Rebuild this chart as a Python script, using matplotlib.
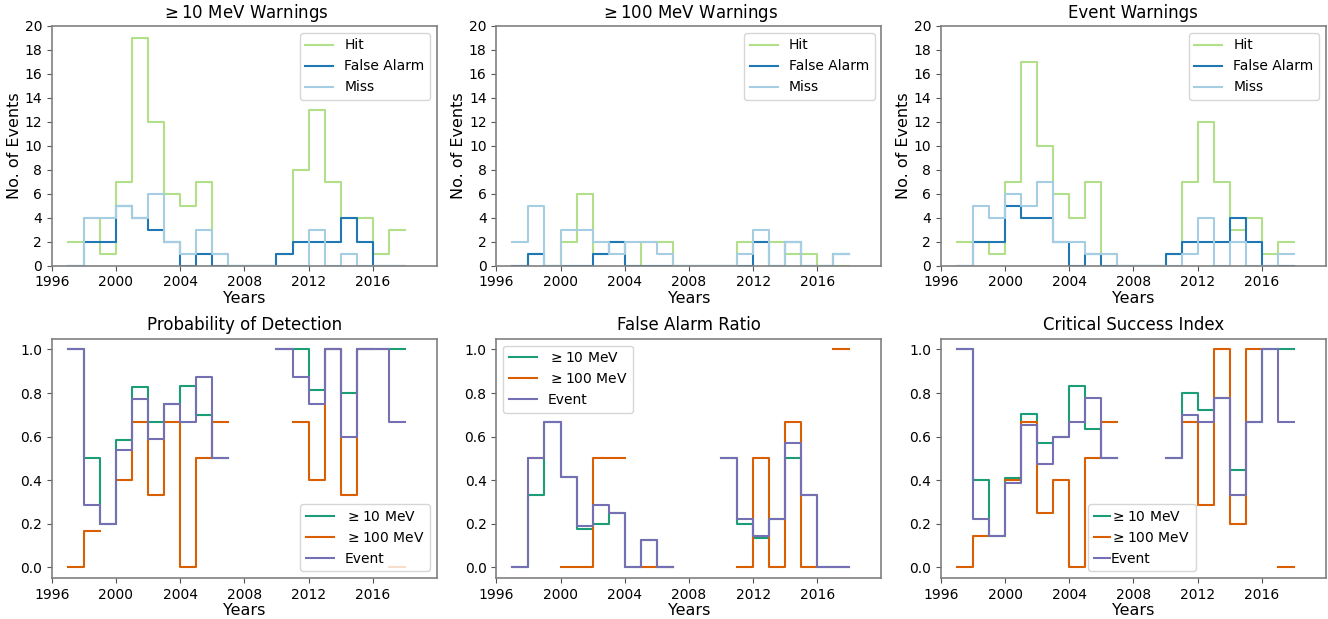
"""Yearly SEP warning counts and skill scores."""

import matplotlib

matplotlib.use("Agg")
import matplotlib.pyplot as plt
import numpy as np

years = np.arange(1997, 2018)

# yearly counts
hit_10 = [2, 4, 1, 7, 19, 12, 6, 5, 7, 1, 0, 0, 0, 1, 8, 13, 7, 4, 4, 1, 3]
fa_10 = [0, 2, 2, 5, 4, 3, 2, 0, 1, 0, 0, 0, 0, 1, 2, 2, 2, 4, 2, 0, 0]
miss_10 = [0, 4, 4, 5, 4, 6, 2, 1, 3, 1, 0, 0, 0, 0, 0, 3, 0, 1, 0, 0, 0]

hit_100 = [0, 1, 0, 2, 6, 1, 2, 0, 2, 2, 0, 0, 0, 0, 2, 2, 2, 1, 1, 0, 0]
fa_100 = [0, 1, 0, 0, 0, 1, 2, 0, 0, 0, 0, 0, 0, 0, 0, 2, 0, 2, 0, 0, 1]
miss_100 = [2, 5, 0, 3, 3, 2, 1, 2, 2, 1, 0, 0, 0, 0, 1, 3, 0, 2, 0, 0, 1]

hit_ev = [2, 2, 1, 7, 17, 10, 6, 4, 7, 1, 0, 0, 0, 1, 7, 12, 7, 3, 4, 1, 2]
fa_ev = [0, 2, 2, 5, 4, 4, 2, 0, 1, 0, 0, 0, 0, 1, 2, 2, 2, 4, 2, 0, 0]
miss_ev = [0, 5, 4, 6, 5, 7, 2, 2, 1, 1, 0, 0, 0, 0, 1, 4, 0, 2, 0, 0, 1]

count_titles = [r"$\geq$10 MeV Warnings", r"$\geq$100 MeV Warnings", "Event Warnings"]
count_labels = ["Hit", "False Alarm", "Miss"]
count_colors = ["#b2df8a", "#1f78b4", "#a6cee3"]

score_titles = ["Probability of Detection", "False Alarm Ratio", "Critical Success Index"]
score_labels = [r"$\geq$10 MeV", r"$\geq$100 MeV", "Event"]
score_colors = ["#1b9e77", "#d95f02", "#7570b3"]

year_ticks = [1996, 2000, 2004, 2008, 2012, 2016]


def ratio(num, den):
    num = np.asarray(num, dtype=float)
    den = np.asarray(den, dtype=float)
    with np.errstate(invalid="ignore", divide="ignore"):
        return np.where(den > 0, num / den, np.nan)


def step(ax, values, **kw):
    v = np.asarray(values, dtype=float)
    ax.plot(np.append(years, years[-1] + 1), np.append(v, v[-1]),
            drawstyle="steps-post", lw=1.5, **kw)


def style(ax):
    for sp in ax.spines.values():
        sp.set_color("#808080")
        sp.set_linewidth(1.2)
        sp.set_zorder(3)
    ax.tick_params(labelsize=10, color="#555555")
    ax.set_xlim(1996, 2020)
    ax.set_xticks(year_ticks)
    ax.set_xlabel("Years", fontsize=11.5, labelpad=1)


counts = [
    (hit_10, fa_10, miss_10),
    (hit_100, fa_100, miss_100),
    (hit_ev, fa_ev, miss_ev),
]

pod = [ratio(h, np.add(h, m)) for h, f, m in counts]
far = [ratio(f, np.add(h, f)) for h, f, m in counts]
csi = [ratio(h, np.add(np.add(h, m), f)) for h, f, m in counts]

fig, axes = plt.subplots(2, 3, figsize=(13.28, 6.19), dpi=100)
fig.subplots_adjust(left=0.039, right=0.9985, top=0.958, bottom=0.066,
                    wspace=0.154, hspace=0.305)

for ax, title, series in zip(axes[0], count_titles, counts):
    for vals, lab, col in zip(series, count_labels, count_colors):
        step(ax, vals, color=col, label=lab)
    style(ax)
    ax.set_ylim(0, 20)
    ax.set_yticks(range(0, 21, 2))
    ax.set_ylabel("No. of Events", fontsize=11.5, labelpad=2)
    ax.set_title(title, fontsize=12)
    ax.legend(loc="upper right", fontsize=10)

for ax, title, scores in zip(axes[1], score_titles, [pod, far, csi]):
    for vals, lab, col in zip(scores, score_labels, score_colors):
        step(ax, vals, color=col, label=lab)
    style(ax)
    ax.set_yticks(np.arange(0, 1.01, 0.2))
    ax.set_title(title, fontsize=12)

axes[1, 0].legend(loc="lower right", fontsize=10)
axes[1, 1].legend(loc="upper left", fontsize=10)
axes[1, 2].legend(loc="lower left", bbox_to_anchor=(0.382, 0.029),
                  borderaxespad=0, fontsize=10, handlelength=1.2,
                  handletextpad=0.0)

fig.savefig("out.png", dpi=100)
